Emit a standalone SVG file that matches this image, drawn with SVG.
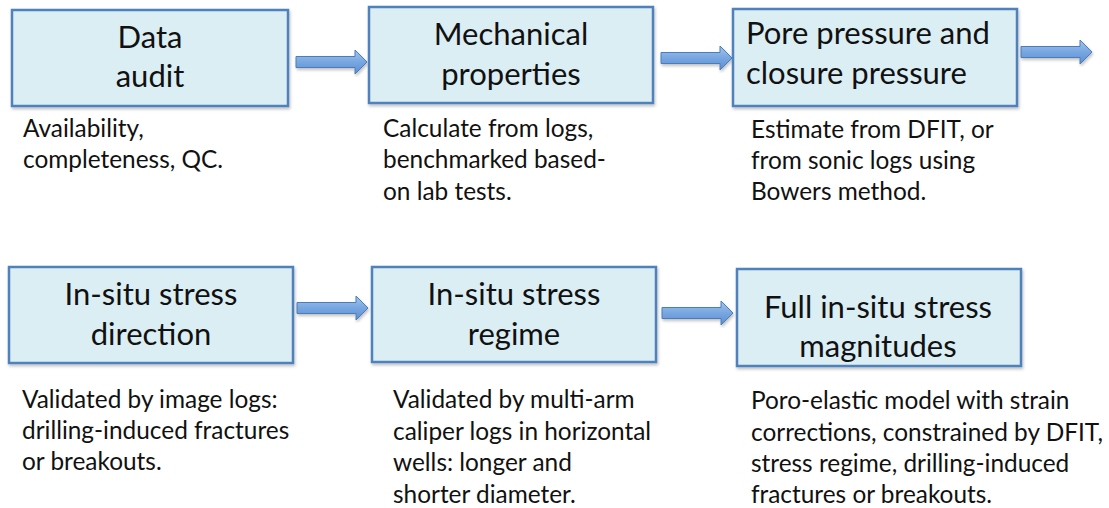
<svg xmlns="http://www.w3.org/2000/svg" width="1109" height="508" viewBox="0 0 1109 508">
  <defs>
    <linearGradient id="ag" x1="0" y1="0" x2="0" y2="1">
      <stop offset="0" stop-color="#a3c4ec"/>
      <stop offset="0.5" stop-color="#78a6e0"/>
      <stop offset="1" stop-color="#5a8fd6"/>
    </linearGradient>
    <filter id="sh" x="-5%" y="-5%" width="110%" height="115%">
      <feDropShadow dx="1" dy="2" stdDeviation="1.5" flood-color="#000" flood-opacity="0.25"/>
    </filter>
    <path id="arr" d="M0,-5.5 H59 V-12 L71,0 L59,12 V5.5 H0 Z"/>
  </defs>
  <style>
    .box { fill: #dbeef3; stroke: #4f81bd; stroke-width: 2.5; filter: url(#sh); }
    .title { font-family: Lato, "Noto Sans", sans-serif; font-size: 31px; fill: #111; text-anchor: middle; }
    .title.left { text-anchor: start; }
    .desc { font-family: Lato, "Noto Sans", sans-serif; font-size: 24.4px; fill: #111; }
    .arrow { fill: url(#ag); stroke: #4a7ebb; stroke-width: 1; filter: url(#sh); }
  </style>
  <rect width="1109" height="508" fill="#fff"/>

  <g id="connectors">
    <use href="#arr" class="arrow" transform="translate(296,62)"/>
    <use href="#arr" class="arrow" transform="translate(661,58)"/>
    <use href="#arr" class="arrow" transform="translate(1021,52)"/>
    <use href="#arr" class="arrow" transform="translate(297,308)"/>
    <use href="#arr" class="arrow" transform="translate(662,313)"/>
  </g>

  <g id="node-data-audit">
    <rect class="box" x="12" y="10" width="276" height="96"/>
    <text class="title" x="150" y="48">Data</text>
    <text class="title" x="150" y="87">audit</text>
    <text class="desc"><tspan x="23" y="137">Availability,</tspan><tspan x="23" y="168">completeness, QC.</tspan></text>
  </g>

  <g id="node-mechanical">
    <rect class="box" x="369" y="7" width="284" height="96"/>
    <text class="title" x="511" y="45">Mechanical</text>
    <text class="title" x="511" y="85">properties</text>
    <text class="desc"><tspan x="383" y="137">Calculate from logs,</tspan><tspan x="383" y="168">benchmarked based-</tspan><tspan x="383" y="200">on lab tests.</tspan></text>
  </g>

  <g id="node-pore-pressure">
    <rect class="box" x="733" y="9" width="284" height="97"/>
    <text class="title left" x="746" y="44">Pore pressure and</text>
    <text class="title left" x="746" y="84">closure pressure</text>
    <text class="desc"><tspan x="751" y="138">Estimate from DFIT, or</tspan><tspan x="751" y="169">from sonic logs using</tspan><tspan x="751" y="200">Bowers method.</tspan></text>
  </g>

  <g id="node-stress-direction">
    <rect class="box" x="9" y="267" width="284" height="96"/>
    <text class="title" x="151" y="305">In-situ stress</text>
    <text class="title" x="151" y="345">direction</text>
    <text class="desc"><tspan x="22" y="408">Validated by image logs:</tspan><tspan x="22" y="439">drilling-induced fractures</tspan><tspan x="22" y="470">or breakouts.</tspan></text>
  </g>

  <g id="node-stress-regime">
    <rect class="box" x="372" y="267" width="284" height="95"/>
    <text class="title" x="514" y="305">In-situ stress</text>
    <text class="title" x="514" y="345">regime</text>
    <text class="desc"><tspan x="393" y="408">Validated by multi-arm</tspan><tspan x="393" y="440">caliper logs in horizontal</tspan><tspan x="393" y="471">wells: longer and</tspan><tspan x="393" y="503">shorter diameter.</tspan></text>
  </g>

  <g id="node-full-stress">
    <rect class="box" x="737" y="269" width="284" height="97"/>
    <text class="title" x="878" y="318">Full in-situ stress</text>
    <text class="title" x="878" y="357">magnitudes</text>
    <text class="desc"><tspan x="751" y="409">Poro-elastic model with strain</tspan><tspan x="751" y="441">corrections, constrained by DFIT,</tspan><tspan x="751" y="472">stress regime, drilling-induced</tspan><tspan x="751" y="503">fractures or breakouts.</tspan></text>
  </g>
</svg>
